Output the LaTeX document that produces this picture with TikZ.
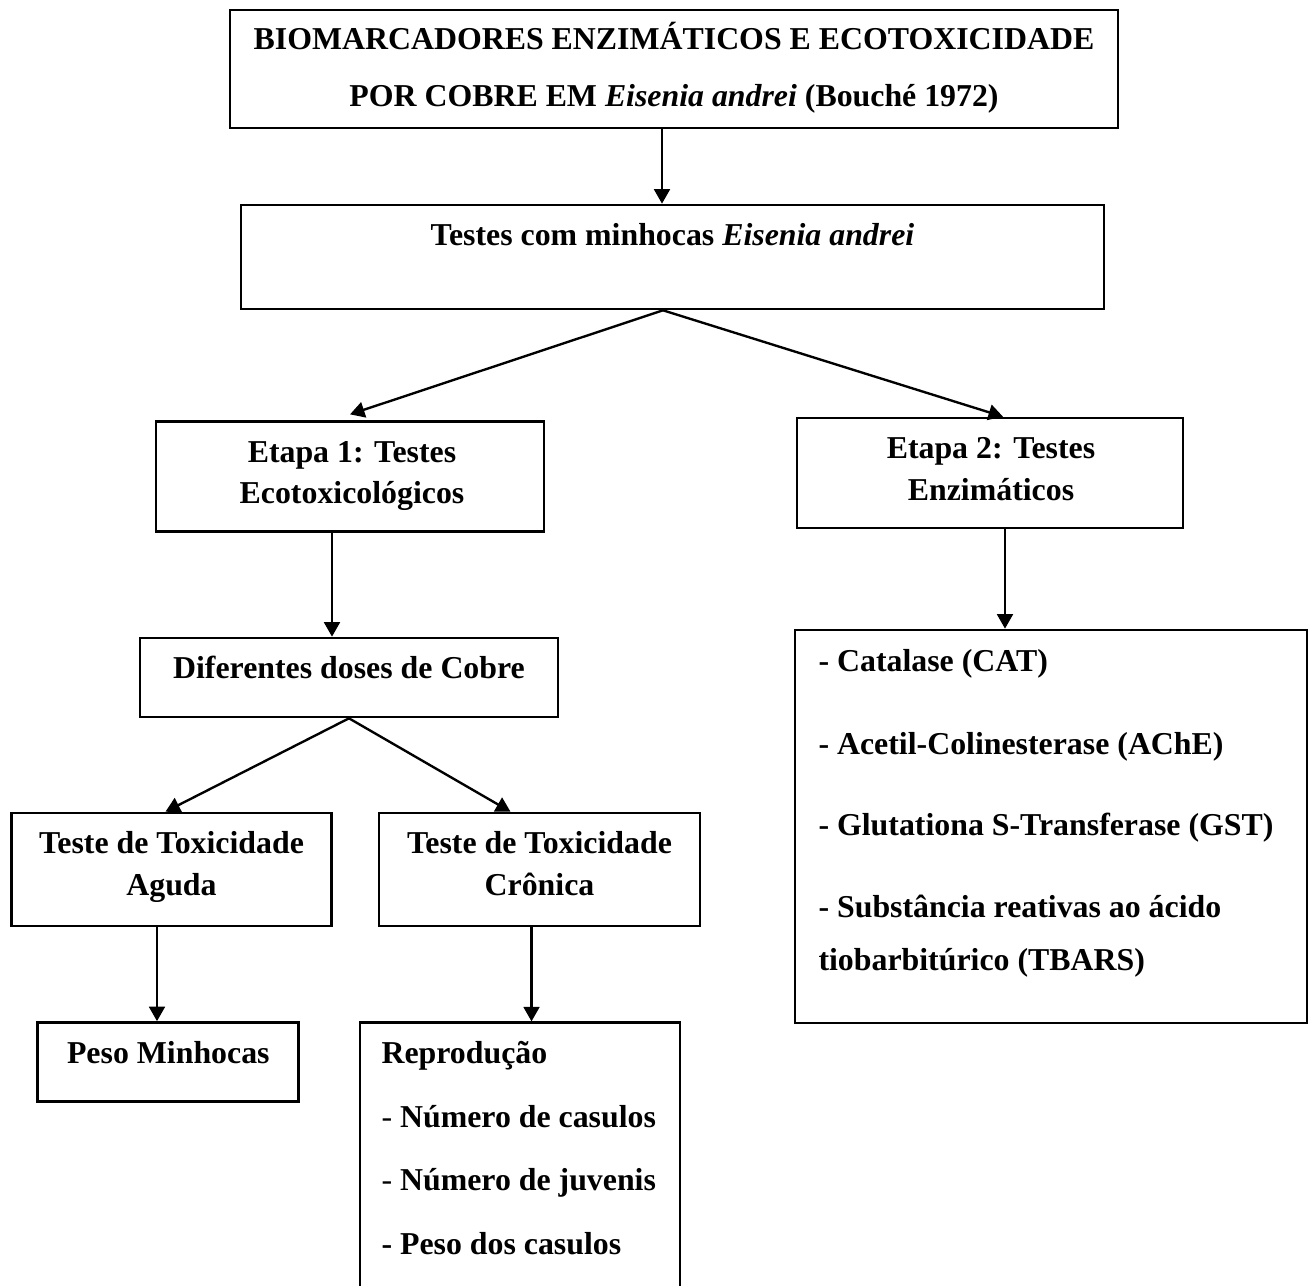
\documentclass[tikz,border=0pt]{standalone}
\usepackage{fontspec}
\setmainfont{Liberation Serif}
\usetikzlibrary{arrows.meta,calc}

\begin{document}
\begin{tikzpicture}[x=0.38pt,y=-0.38pt,
    caixa/.style={draw,line width=1pt,inner sep=0pt},
    tam/.style 2 args={minimum width=#1*0.38pt,minimum height=#2*0.38pt},
    seta/.style={line width=0.9pt,-{Triangle[width=6pt,length=5.5pt]}},
    txt/.style={font=\fontsize{12.1pt}{14pt}\selectfont\bfseries,anchor=base,inner sep=0pt},
    txtesq/.style={txt,anchor=base west}]
      \useasboundingbox (0,0) rectangle (1308,1286);
      % caixas
      \node[caixa,tam={888}{118}] (titulo) at (674,69) {};
      \node[caixa,tam={863}{104}] (testes) at (672.5,257) {};
      \node[caixa,tam={388}{110}] (etapa1) at (350,476.7) {};
      \node[caixa,tam={386}{110}] (etapa2) at (990,473) {};
      \node[caixa,tam={418}{79}] (doses) at (349,677.5) {};
      \node[caixa,tam={320}{113}] (aguda) at (171.5,869.5) {};
      \node[caixa,tam={321}{113}] (cronica) at (539.5,869.5) {};
      \node[caixa,tam={261}{79}] (peso) at (168.3,1062) {};
      \node[caixa,tam={320}{300}] (repro) at (520,1172.7) {};
      \node[caixa,tam={512}{393}] (enzimas) at (1051,826.5) {};
      % textos
      \node[txt] (titulo1) at (674,50) {BIOMARCADORES ENZIMÁTICOS E ECOTOXICIDADE};
      \node[txt] (titulo2) at (674,107) {POR COBRE EM \textit{Eisenia andrei} (Bouché 1972)};
      \node[txt] (testes1) at (672.5,245) {Testes com minhocas \textit{Eisenia andrei}};
      \node[txt] (etapa1a) at (352,462) {Etapa 1: Testes};
      \node[txt] (etapa1b) at (352,503) {Ecotoxicológicos};
      \node[txt] (etapa2a) at (991,458) {Etapa 2: Testes};
      \node[txt] (etapa2b) at (991,500) {Enzimáticos};
      \node[txt] (doses1) at (349,678) {Diferentes doses de Cobre};
      \node[txt] (aguda1) at (171.5,853) {Teste de Toxicidade};
      \node[txt] (aguda2) at (171.5,895) {Aguda};
      \node[txt] (cronica1) at (539.5,853) {Teste de Toxicidade};
      \node[txt] (cronica2) at (539.5,895) {Crônica};
      \node[txt] (peso1) at (168.3,1063) {Peso Minhocas};
      \node[txtesq] (repro1) at (381,1063) {Reprodução};
      \node[txtesq] (repro2) at (381,1127) {{\mdseries -} Número de casulos};
      \node[txtesq] (repro3) at (381,1190) {{\mdseries -} Número de juvenis};
      \node[txtesq] (repro4) at (381,1254) {- Peso dos casulos};
      \node[txtesq] (enz1) at (818,671) {- Catalase (CAT)};
      \node[txtesq] (enz2) at (818,754) {- Acetil-Colinesterase (AChE)};
      \node[txtesq] (enz3) at (818,835) {- Glutationa S-Transferase (GST)};
      \node[txtesq] (enz4) at (818,917) {- Substância reativas ao ácido};
      \node[txtesq] (enz5) at (818,970) {tiobarbitúrico (TBARS)};
      % pontos de saida das setas
      \coordinate (s1) at ($(titulo.south)+(-12,0)$);
      \coordinate (s2) at ($(testes.south)+(-9.5,0)$);
      \coordinate (s3) at ($(etapa1.south)+(-18,0)$);
      \coordinate (s4) at ($(etapa2.south)+(15,0)$);
      \coordinate (s5) at ($(aguda.south)+(-14.5,0)$);
      \coordinate (s6) at ($(cronica.south)+(-8,0)$);
      % setas
      \draw[seta] (s1) -- (s1 |- testes.north);
      \draw[seta] (s2) -- ($(etapa1.north)+(0,-6)$);
      \draw[seta] (s2) -- ($(etapa2.north)+(13,0)$);
      \draw[seta] (s3) -- (s3 |- doses.north);
      \draw[seta] (s4) -- (s4 |- enzimas.north);
      \draw[seta] (doses.south) -- ($(aguda.north)+(-6,0)$);
      \draw[seta] (doses.south) -- ($(cronica.north)+(-29,0)$);
      \draw[seta] (s5) -- (s5 |- peso.north);
      \draw[seta] (s6) -- (s6 |- repro.north);
\end{tikzpicture}
\end{document}
